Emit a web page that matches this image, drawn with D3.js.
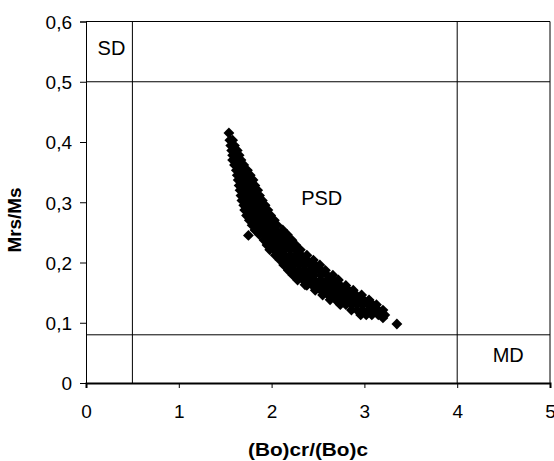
<!DOCTYPE html>
<html lang="en">
<head>
<meta charset="UTF-8">
<title>Day plot</title>
<style>
  html, body { margin: 0; padding: 0; background: #fff; overflow: hidden; }
  svg { display: block; font-family: "Liberation Sans", Arial, sans-serif; }
</style>
</head>
<body>
<div id="stage"></div>
<script src="https://cdn.jsdelivr.net/npm/d3@7"></script>
<script>
// samples, row by row: one Mrs/Ms level, the Bcr/Bc values on it
const mrsRows = [
  0.415, 0.403, 0.394, 0.386, 0.378, 0.370, 0.362, 0.353, 0.345, 0.337, 0.328, 0.320,
  0.311, 0.303, 0.295, 0.287, 0.278, 0.270, 0.262, 0.254, 0.246, 0.237, 0.229, 0.221,
  0.212, 0.204, 0.196, 0.187, 0.179, 0.171, 0.162, 0.154, 0.146, 0.138, 0.130, 0.121,
  0.113, 0.108
];
const bcrRows = [
  [1.54],
  [1.55, 1.58],
  [1.56, 1.60],
  [1.57, 1.60, 1.63],
  [1.58, 1.61, 1.65],
  [1.58, 1.62, 1.67],
  [1.60, 1.65, 1.70],
  [1.62, 1.66, 1.70, 1.74],
  [1.63, 1.67, 1.72, 1.77],
  [1.64, 1.68, 1.72, 1.76, 1.80],
  [1.65, 1.70, 1.74, 1.78, 1.82],
  [1.66, 1.71, 1.76, 1.80, 1.85],
  [1.67, 1.72, 1.77, 1.82, 1.87],
  [1.68, 1.73, 1.78, 1.84, 1.90],
  [1.70, 1.75, 1.80, 1.86, 1.93],
  [1.71, 1.76, 1.82, 1.88, 1.93, 1.96],
  [1.73, 1.78, 1.84, 1.90, 1.95, 1.99],
  [1.76, 1.81, 1.87, 1.92, 1.98, 2.03],
  [1.79, 1.84, 1.90, 1.95, 2.01, 2.06],
  [1.82, 1.87, 1.93, 1.98, 2.04, 2.12],
  [1.87, 1.92, 1.97, 2.02, 2.07, 2.12, 2.17],
  [1.92, 1.97, 2.02, 2.07, 2.12, 2.17, 2.22],
  [1.95, 2.00, 2.05, 2.10, 2.16, 2.21, 2.26],
  [1.98, 2.03, 2.08, 2.14, 2.20, 2.26, 2.31],
  [2.04, 2.09, 2.14, 2.20, 2.26, 2.32, 2.38],
  [2.09, 2.14, 2.20, 2.26, 2.32, 2.38, 2.45],
  [2.13, 2.18, 2.24, 2.30, 2.36, 2.42, 2.47, 2.52],
  [2.18, 2.23, 2.29, 2.35, 2.41, 2.47, 2.53, 2.58],
  [2.23, 2.28, 2.34, 2.40, 2.46, 2.53, 2.60, 2.66],
  [2.28, 2.34, 2.40, 2.46, 2.53, 2.60, 2.66, 2.72],
  [2.38, 2.44, 2.50, 2.56, 2.62, 2.68, 2.74, 2.80],
  [2.47, 2.53, 2.59, 2.65, 2.71, 2.77, 2.83, 2.88],
  [2.55, 2.61, 2.67, 2.73, 2.79, 2.85, 2.91, 2.97],
  [2.63, 2.69, 2.75, 2.81, 2.87, 2.93, 2.99, 3.05],
  [2.74, 2.80, 2.86, 2.92, 2.98, 3.04, 3.09, 3.13],
  [2.86, 2.92, 2.98, 3.04, 3.10, 3.15, 3.20],
  [2.96, 3.02, 3.08, 3.15, 3.22],
  [3.20]
];
// stray samples off the main band
const strayBcr = [1.75, 2.36, 3.35];
const strayMrs = [0.245, 0.163, 0.098];

const xTicks = [0, 1, 2, 3, 4, 5];
const yTicks = [0, 0.1, 0.2, 0.3, 0.4, 0.5, 0.6];
// domain boundaries
const bcrLimits = [0.5, 4];
const mrsLimits = [0.5, 0.08];
const regionNames = ['SD', 'PSD', 'MD'];
const regionBcr = [0.275, 2.54, 4.55];
const regionMrs = [0.557, 0.308, 0.046];

const width = 554, height = 461;
const margin = { top: 21.5, right: 4, bottom: 78, left: 86 };

const svg = d3.select('#stage').append('svg')
  .attr('width', width)
  .attr('height', height);

const x = d3.scaleLinear().domain([0, 5]).range([margin.left, width - margin.right]);
const y = d3.scaleLinear().domain([0, 0.6]).range([height - margin.bottom, margin.top]);

const fmt = d => (d === 0 ? '0' : d3.format('.1f')(d).replace('.', ','));

// frame (top + right)
svg.append('path')
  .attr('d', `M${x(0)},${y(0.6)}H${x(5)}V${y(0)}`)
  .attr('fill', 'none')
  .attr('stroke', '#000')
  .attr('stroke-width', 1);

// domain boundary lines
bcrLimits.forEach(v => {
  svg.append('line')
    .attr('x1', x(v)).attr('x2', x(v))
    .attr('y1', y(0)).attr('y2', y(0.6))
    .attr('stroke', '#000').attr('stroke-width', 1);
});
mrsLimits.forEach(v => {
  svg.append('line')
    .attr('x1', x(0)).attr('x2', x(5))
    .attr('y1', y(v)).attr('y2', y(v))
    .attr('stroke', '#000').attr('stroke-width', 1);
});

// axes
const xAxis = svg.append('g')
  .attr('transform', `translate(0,${y(0)})`)
  .call(d3.axisBottom(x).tickValues(xTicks).tickFormat(d => d).tickSize(5).tickPadding(17));
xAxis.select('.domain').attr('stroke-width', 2);

const yAxis = svg.append('g')
  .attr('transform', `translate(${x(0)},0)`)
  .call(d3.axisLeft(y).tickValues(yTicks).tickFormat(fmt).tickSize(6).tickPadding(8));

svg.selectAll('.tick text')
  .attr('font-size', 19)
  .attr('font-family', '"Liberation Sans", Arial, sans-serif')
  .attr('fill', '#000');
yAxis.selectAll('.tick text').attr('dy', '0.36em');

// markers
const points = [];
mrsRows.forEach((m, i) => bcrRows[i].forEach(b => points.push([b, m])));
strayBcr.forEach((b, i) => points.push([b, strayMrs[i]]));

const diamond = d3.symbol().type(d3.symbolDiamond2).size(75);
svg.append('g')
  .selectAll('path')
  .data(points)
  .join('path')
  .attr('d', diamond)
  .attr('transform', d => `translate(${x(d[0])},${y(d[1])})`)
  .attr('fill', '#000');

// region labels
svg.append('g')
  .selectAll('text')
  .data(regionNames)
  .join('text')
  .attr('x', (d, i) => x(regionBcr[i]))
  .attr('y', (d, i) => y(regionMrs[i]))
  .attr('text-anchor', 'middle')
  .attr('dy', '0.36em')
  .attr('font-size', 20)
  .text(d => d);

// axis titles
svg.append('text')
  .attr('x', 308)
  .attr('y', 456)
  .attr('text-anchor', 'middle')
  .attr('font-size', 19)
  .attr('font-weight', 'bold')
  .attr('textLength', 120)
  .attr('lengthAdjust', 'spacingAndGlyphs')
  .text('(Bo)cr/(Bo)c');

svg.append('text')
  .attr('transform', 'translate(21,220) rotate(-90)')
  .attr('text-anchor', 'middle')
  .attr('font-size', 18)
  .attr('font-weight', 'bold')
  .attr('textLength', 65)
  .attr('lengthAdjust', 'spacingAndGlyphs')
  .text('Mrs/Ms');
</script>
</body>
</html>
